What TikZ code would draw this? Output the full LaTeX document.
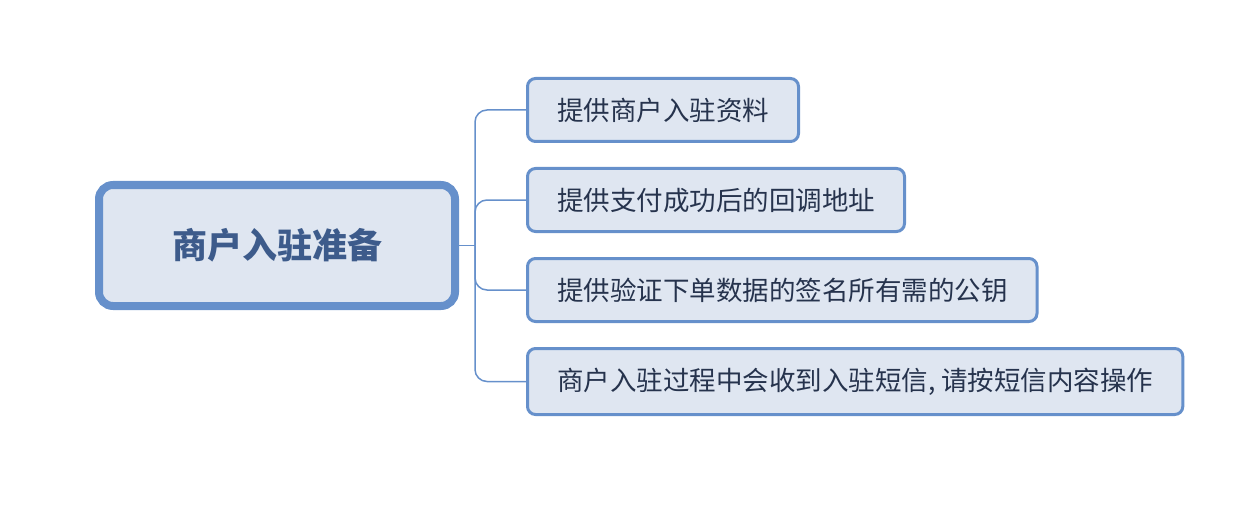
\documentclass[tikz,border=0pt]{standalone}
\usepackage{fontspec}
\setmainfont{Noto Sans CJK SC}
\usepackage{tikz}
\usetikzlibrary{
  positioning,
  calc
}
\usepackage{xcolor}
\definecolor{branch}{HTML}{6690CB}
\definecolor{boxfill}{HTML}{DFE6F1}
\definecolor{roottext}{HTML}{3D5B8B}
\definecolor{leaftext}{HTML}{26334D}

\begin{document}
\begin{tikzpicture}[
  x=1pt, y=-1pt,
  root/.style={draw=branch, line width=8pt, fill=boxfill, rounded corners=14pt,
               minimum width=356pt, minimum height=121pt, inner sep=0pt,
               text=roottext, font=\fontsize{35}{40}\selectfont\bfseries},
  leaf/.style={draw=branch, line width=3pt, fill=boxfill, rounded corners=8pt,
               minimum height=63pt, inner xsep=29.5pt, inner ysep=0pt, anchor=west,
               text=leaftext, font=\fontsize{26.5}{30}\selectfont},
  link/.style={draw=branch, line width=1.5pt, rounded corners=12pt}
]
  \useasboundingbox (0,0) rectangle (1256,516);

  % Root
  \node[root] (prep) at (277, 245.5) {商户入驻准备};

  % Leaves
  \node[leaf] (info) at (526, 110) {提供商户入驻资料};
  \node[leaf] (callback) at (526, 200) {提供支付成功后的回调地址};
  \node[leaf] (pubkey) at (526, 290) {提供验证下单数据的签名所有需的公钥};
  \node[leaf, minimum height=66pt] (sms) at (526, 381.5) {商户入驻过程中会收到入驻短信, 请按短信内容操作};

  % Branches
  \coordinate (hub) at ($(prep.east)+(16,0)$);
  \draw[link] (prep.east) -- (hub);
  \foreach \leafname in {info, callback, pubkey, sms}
    \draw[link] (hub) |- (\leafname.west);

\end{tikzpicture}
\end{document}
